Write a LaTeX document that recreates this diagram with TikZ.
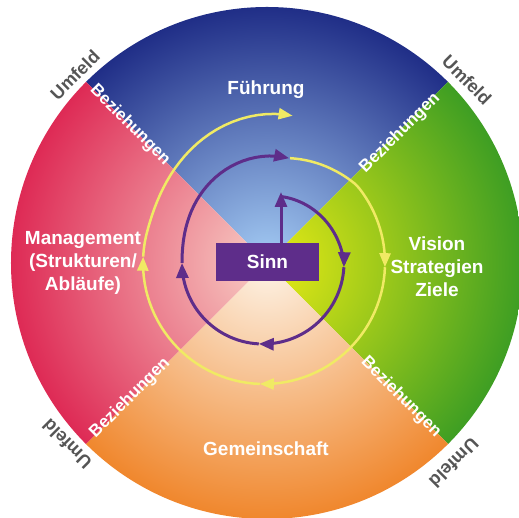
\documentclass[tikz,border=0pt]{standalone}
\usepackage{fontspec}
\setmainfont{Liberation Sans}
\usetikzlibrary{arrows.meta}

\definecolor{blueinner}{RGB}{165,205,245}
\definecolor{blueouter}{RGB}{32,46,135}
\definecolor{greeninner}{RGB}{235,236,20}
\definecolor{greenouter}{RGB}{62,158,35}
\definecolor{orangeinner}{RGB}{253,244,232}
\definecolor{orangeouter}{RGB}{240,135,45}
\definecolor{redinner}{RGB}{248,208,198}
\definecolor{redouter}{RGB}{222,42,85}
\definecolor{sinnpurple}{RGB}{94,45,138}
\definecolor{ringyellow}{RGB}{240,234,100}
\definecolor{umfeldgray}{RGB}{85,85,85}

\tikzset{
  fieldtext/.style={text=white, font=\bfseries\fontsize{19}{23}\selectfont, align=center},
  beztext/.style={text=white, font=\bfseries\fontsize{17}{20}\selectfont},
  umfeldtext/.style={text=umfeldgray, font=\bfseries\fontsize{18}{20}\selectfont},
  purplearrow/.style={draw=sinnpurple, line width=3pt, -{Triangle[length=15pt,width=12pt]}},
  yellowarrow/.style={draw=ringyellow, line width=2.5pt, -{Triangle[length=14pt,width=11pt]}},
  declare function={
    easeio(\s)=(\s)*(\s)*(3-2*(\s));
    rpurple(\w)=((\w)>0) ? 81-12*(\w)/74 : (((\w)<-180) ? 81+27*easeio((-180-(\w))/104) : 81);
    ryellow(\w)=((\w)>40) ? 121-13*((\w)-40)/36 : (((\w)<-195) ? 121+29*easeio((-195-(\w))/86) : 121);
  }
}

\begin{document}
\begin{tikzpicture}[x=1pt,y=1pt]
  \useasboundingbox (-267,-255) rectangle (252,263);

  % four quadrants, shaded from the middle outwards
  \foreach \a/\ci/\co in {90/blueinner/blueouter, 0/greeninner/greenouter,
                          -90/orangeinner/orangeouter, 180/redinner/redouter}{
    \begin{scope}
      \clip (0,0) -- (\a-45:260) arc [start angle=\a-45, end angle=\a+45, radius=260] -- cycle;
      \shade[inner color=\ci, outer color=\co] (0,0) circle [radius=256];
    \end{scope}
  }

  % field labels
  \node[fieldtext] (fuehrung) at (-1,173) {F\"uhrung};
  \node[fieldtext] (vision) at (170,-4) {Vision\\Strategien\\Ziele};
  \node[fieldtext] (gemeinschaft) at (-1,-186) {Gemeinschaft};
  \node[fieldtext] (management) at (-184,0) {Management\\(Strukturen/\\Abl\"aufe)};

  % Beziehungen on the diagonals
  \node[beztext, rotate=-45] (bezTL) at (-137,138) {Beziehungen};
  \node[beztext, rotate=45]  (bezTR) at (133,130) {Beziehungen};
  \node[beztext, rotate=45]  (bezBL) at (-137,-135) {Beziehungen};
  \node[beztext, rotate=-45] (bezBR) at (134,-134) {Beziehungen};

  % Umfeld outside the circle
  \node[umfeldtext, rotate=45]   (umfTL) at (-192,188) {Umfeld};
  \node[umfeldtext, rotate=-45]  (umfTR) at (200,183) {Umfeld};
  \node[umfeldtext, rotate=135]  (umfBL) at (-200,-181) {Umfeld};
  \node[umfeldtext, rotate=-135] (umfBR) at (187,-200) {Umfeld};

  % centre
  \node[fill=sinnpurple, minimum width=103pt, minimum height=38pt, inner sep=0pt,
        text=white, font=\bfseries\fontsize{19}{23}\selectfont] (sinn) at (0.5,1) {Sinn};
  \coordinate (sinntip) at (14,71);
  \draw[purplearrow] (sinn.north -| sinntip) -- (sinntip);

  % inner spiral (purple), one quarter per arrow
  \foreach \from/\to in {74/-3, -3/-93, -93/-180, -180/-284}{
    \draw[purplearrow] plot[domain=\from:\to, samples=30, variable=\t]
      ({-4+rpurple(\t)*cos(\t)}, {rpurple(\t)*sin(\t)});
  }

  % outer spiral (yellow)
  \foreach \from/\to in {76/-2, -2/-92, -92/-183, -183/-281}{
    \draw[yellowarrow] plot[domain=\from:\to, samples=30, variable=\t]
      ({-3+ryellow(\t)*cos(\t)}, {ryellow(\t)*sin(\t)});
  }
\end{tikzpicture}
\end{document}
